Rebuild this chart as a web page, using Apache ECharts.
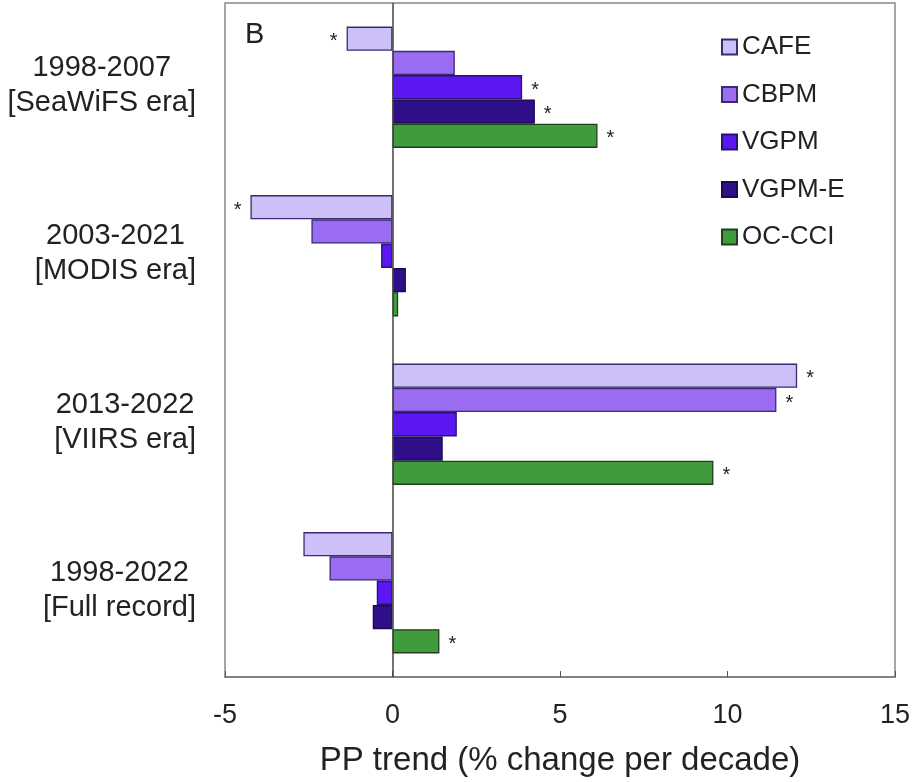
<!DOCTYPE html>
<html><head><meta charset="utf-8">
<script src="https://cdn.jsdelivr.net/npm/echarts@6/dist/echarts.min.js"></script>
<style>html,body{margin:0;padding:0;background:#fff}#c{width:913px;height:782px}</style>
</head><body><div id="c"></div>
<script>
const periods = ['1998-2007\n[SeaWiFS era]', '2003-2021\n[MODIS era]', '2013-2022\n[VIIRS era]', '1998-2022\n[Full record]'];
const seriesNames = ['CAFE', 'CBPM', 'VGPM', 'VGPM-E', 'OC-CCI'];
const cafe   = [-1.37, -4.24, 12.08, -2.66];
const cbpm   = [1.86, -2.42, 11.46, -1.88];
const vgpm   = [3.87, -0.34, 1.92, -0.47];
const vgpmE  = [4.25, 0.40, 1.50, -0.59];
const occci  = [6.12, 0.17, 9.58, 1.40];
const cafeSig  = [true, true, true, false];
const cbpmSig  = [false, false, true, false];
const vgpmSig  = [true, false, false, false];
const vgpmESig = [true, false, false, false];
const occciSig = [true, false, true, true];
const xTicks = [-5, 0, 5, 10, 15];
const colors = ['#cdbff7', '#9a6cf2', '#5a17f0', '#2f0e8a', '#3f9b3b'];
const borders = ['#3a2a70', '#3a2a70', '#2a1470', '#1a0a50', '#1f3f1f'];

const values = [cafe, cbpm, vgpm, vgpmE, occci];
const sigs = [cafeSig, cbpmSig, vgpmSig, vgpmESig, occciSig];
const FONT = "'Liberation Sans', Arial, sans-serif";

const series = seriesNames.map((name, i) => ({
  name, type: 'bar',
  barGap: '0%', barCategoryGap: '28%',
  itemStyle: { color: colors[i], borderColor: borders[i], borderWidth: 1.3 },
  label: { show: false },
  data: values[i].map((v, j) => ({
    value: v,
    label: { show: sigs[i][j], position: 'outside', formatter: '*', distance: 9,
             fontSize: 20, color: '#222', fontFamily: FONT, offset: [0, 3] }
  })),
  markLine: i === 0 ? {
    silent: true, symbol: 'none', label: { show: false },
    lineStyle: { color: '#444', width: 1.5, type: 'solid' },
    data: [{ xAxis: 0 }]
  } : undefined
}));

const chart = echarts.init(document.getElementById('c'));
chart.setOption({
  animation: false,
  backgroundColor: '#fff',
  title: { text: 'B', left: 240, top: 15, textStyle: { fontSize: 29, fontWeight: 'normal', color: '#222', fontFamily: FONT } },
  legend: {
    orient: 'vertical', left: 716, top: 29, itemGap: 21.5, itemWidth: 15, itemHeight: 15,
    icon: 'rect', data: seriesNames,
    textStyle: { fontSize: 26, color: '#222', fontFamily: FONT, lineHeight: 26 }
  },
  grid: { left: 225, right: 14, top: 3, bottom: 103, show: true, borderColor: '#888', borderWidth: 1.5, containLabel: false },
  xAxis: {
    type: 'value', min: -5, max: 15, interval: 5,
    axisLine: { show: true, lineStyle: { color: '#777', width: 1.5 } },
    axisTick: { show: true, inside: true, length: 6, lineStyle: { color: '#555' } },
    splitLine: { show: false },
    axisLabel: { fontSize: 27, color: '#222', fontFamily: FONT, margin: 25,
                 formatter: v => xTicks.includes(v) ? String(v) : '' },
    name: 'PP trend (% change per decade)', nameLocation: 'middle', nameGap: 67,
    nameTextStyle: { fontSize: 33, color: '#222', fontFamily: FONT }
  },
  yAxis: {
    type: 'category', inverse: true, data: periods,
    axisLine: { show: false, onZero: false },
    axisTick: { show: false },
    axisLabel: {
      align: 'right', margin: 29, color: '#222', fontFamily: FONT, fontSize: 29, lineHeight: 35,
      padding: [0, 0, 4, 0],
      formatter: v => v.split('\n').map(s => '{c|' + s + '}').join('\n'),
      rich: { c: { align: 'center', fontSize: 29, lineHeight: 35, color: '#222', fontFamily: FONT } }
    }
  },
  series
});
</script></body></html>
